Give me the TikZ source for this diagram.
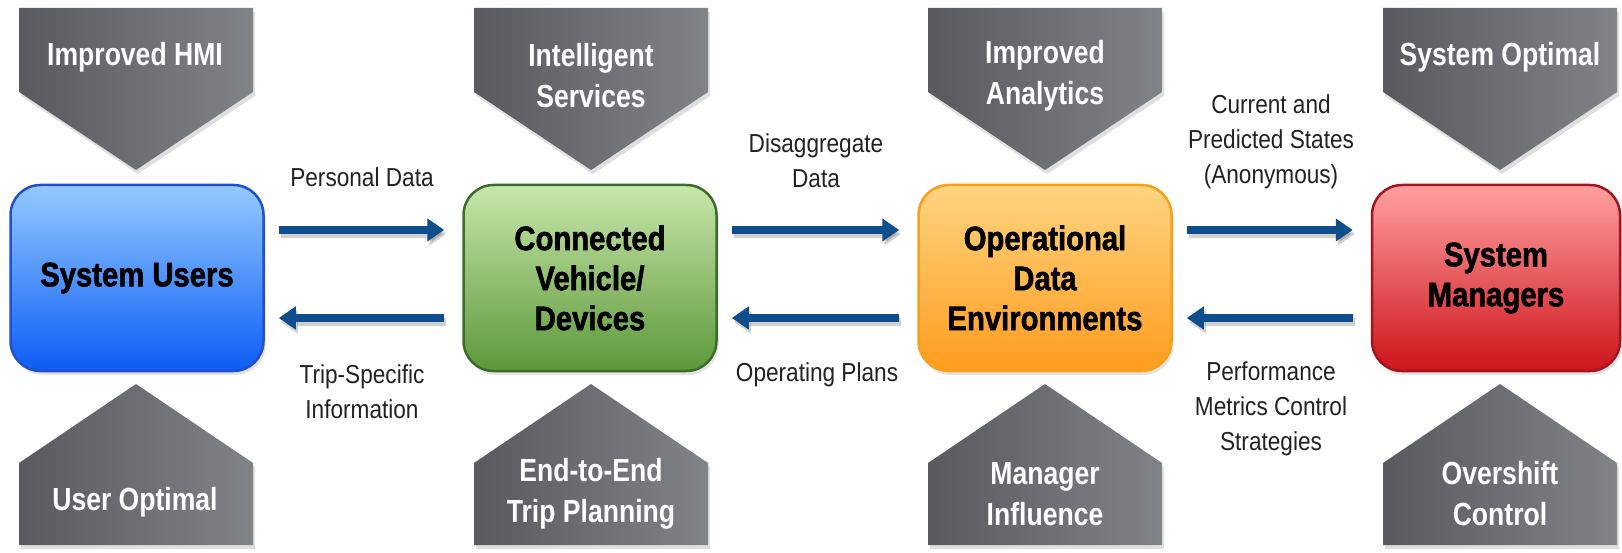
\documentclass[tikz,border=0pt]{standalone}
\usepackage{fontspec}
\setmainfont{Liberation Sans}[FakeStretch=0.87]
\newfontfamily\penfont{Liberation Sans}[FakeStretch=0.83]
\newfontfamily\boxfont{Liberation Sans Bold}[FakeStretch=0.86, FakeBold=1.6]
\usetikzlibrary{arrows.meta,shadows}

\definecolor{flow}{HTML}{0F4E8C}
\definecolor{penL}{HTML}{585A5F}
\definecolor{penR}{HTML}{808387}
\definecolor{labtext}{HTML}{222222}
% box palettes: border, top, middle, bottom
\definecolor{blueB}{RGB}{32,80,208}
\definecolor{blueT}{RGB}{148,202,255}
\definecolor{blueM}{RGB}{80,158,255}
\definecolor{blueD}{RGB}{12,92,245}
\definecolor{greenB}{RGB}{62,107,43}
\definecolor{greenT}{RGB}{200,231,171}
\definecolor{greenM}{RGB}{165,212,130}
\definecolor{greenD}{RGB}{92,152,58}
\definecolor{orangeB}{RGB}{247,161,26}
\definecolor{orangeT}{RGB}{255,212,128}
\definecolor{orangeM}{RGB}{255,196,95}
\definecolor{orangeD}{RGB}{255,156,30}
\definecolor{redB}{RGB}{165,20,30}
\definecolor{redT}{RGB}{255,160,160}
\definecolor{redM}{RGB}{250,100,100}
\definecolor{redD}{RGB}{205,20,26}

\begin{document}
\begin{tikzpicture}[x=1pt,y=-1pt,
  pentagon/.style={left color=penL, right color=penR,
    drop shadow={opacity=0.25, shadow xshift=2pt, shadow yshift=-4pt}},
  pentext/.style={text=white, align=center,
    font=\penfont\fontsize{32}{41}\selectfont\bfseries},
  box/.style={rounded corners=30pt, minimum width=253pt, minimum height=186pt,
    line width=2.5pt, align=center, text=black,
    font=\boxfont\fontsize{34}{40}\selectfont,
    drop shadow={opacity=0.22, shadow xshift=2pt, shadow yshift=-4pt}},
  lab/.style={text=labtext, align=center, font=\fontsize{26}{35}\selectfont},
  flowarrow/.style={draw=flow, line width=8pt,
    -{Triangle[length=17pt,width=22pt]},
    preaction={draw=black, opacity=0.18, line width=8pt,
      transform canvas={xshift=2pt,yshift=-4pt}}},
  fwd/.style={flowarrow, shorten <=14pt, shorten >=18pt},
  bwd/.style={flowarrow, shorten <=18pt, shorten >=14pt}
]
\path[use as bounding box, fill=white] (0,0) rectangle (1622,553);

% downward pentagons along the top
\foreach \cx in {136,591,1045,1500} {
  \path[pentagon] ({\cx-117},8) -- ({\cx+117},8) -- ({\cx+117},92)
    -- (\cx,170) -- ({\cx-117},92) -- cycle;
}
% upward pentagons along the bottom
\foreach \cx in {136,591,1045,1500} {
  \path[pentagon] (\cx,384) -- ({\cx+117},463) -- ({\cx+117},545)
    -- ({\cx-117},545) -- ({\cx-117},463) -- cycle;
}

% pentagon captions
\node[pentext] (hmi) at (135,57) {Improved HMI};
\node[pentext] (svc) at (591,76) {Intelligent\\Services};
\node[pentext] (ana) at (1045,76) {Improved\\Analytics};
\node[pentext] (sop) at (1500,57) {System Optimal};
\node[pentext] (uop) at (135,502) {User Optimal};
\node[pentext] (e2e) at (591,494) {End-to-End\\Trip Planning};
\node[pentext] (inf) at (1045,494) {Manager\\Influence};
\node[pentext] (osc) at (1500,494) {Overshift\\Control};

% main boxes
\node[box, draw=blueB, top color=blueT, middle color=blueM, bottom color=blueD]
  (su) at (137,278) {System Users};
\node[box, draw=greenB, top color=greenT, middle color=greenM, bottom color=greenD]
  (cv) at (590,278) {Connected\\Vehicle/\\Devices};
\node[box, draw=orangeB, top color=orangeT, middle color=orangeM, bottom color=orangeD]
  (oe) at (1045,278) {Operational\\Data\\Environments};
\node[box, minimum width=248pt, draw=redB, top color=redT, middle color=redM, bottom color=redD]
  (sm) at (1496,278) {System\\Managers};

% data flows
\draw[fwd] ([yshift=48pt]su.east) -- ([yshift=48pt]cv.west);
\draw[bwd] ([yshift=-40pt]cv.west) -- ([yshift=-40pt]su.east);
\draw[fwd] ([yshift=48pt]cv.east) -- ([yshift=48pt]oe.west);
\draw[bwd] ([yshift=-40pt]oe.west) -- ([yshift=-40pt]cv.east);
\draw[fwd] ([yshift=48pt]oe.east) -- ([yshift=48pt]sm.west);
\draw[bwd] ([yshift=-40pt]sm.west) -- ([yshift=-40pt]oe.east);

% flow labels
\node[lab] (l1) at (362,177) {Personal Data};
\node[lab] (l2) at (362,392) {Trip-Specific\\Information};
\node[lab] (l3) at (816,161) {Disaggregate\\Data};
\node[lab] (l4) at (817,375) {Operating Plans};
\node[lab] (l5) at (1271,142) {Current and\\Predicted States\\(Anonymous)};
\node[lab] (l6) at (1271,409) {Performance\\Metrics Control\\Strategies};
\end{tikzpicture}
\end{document}
